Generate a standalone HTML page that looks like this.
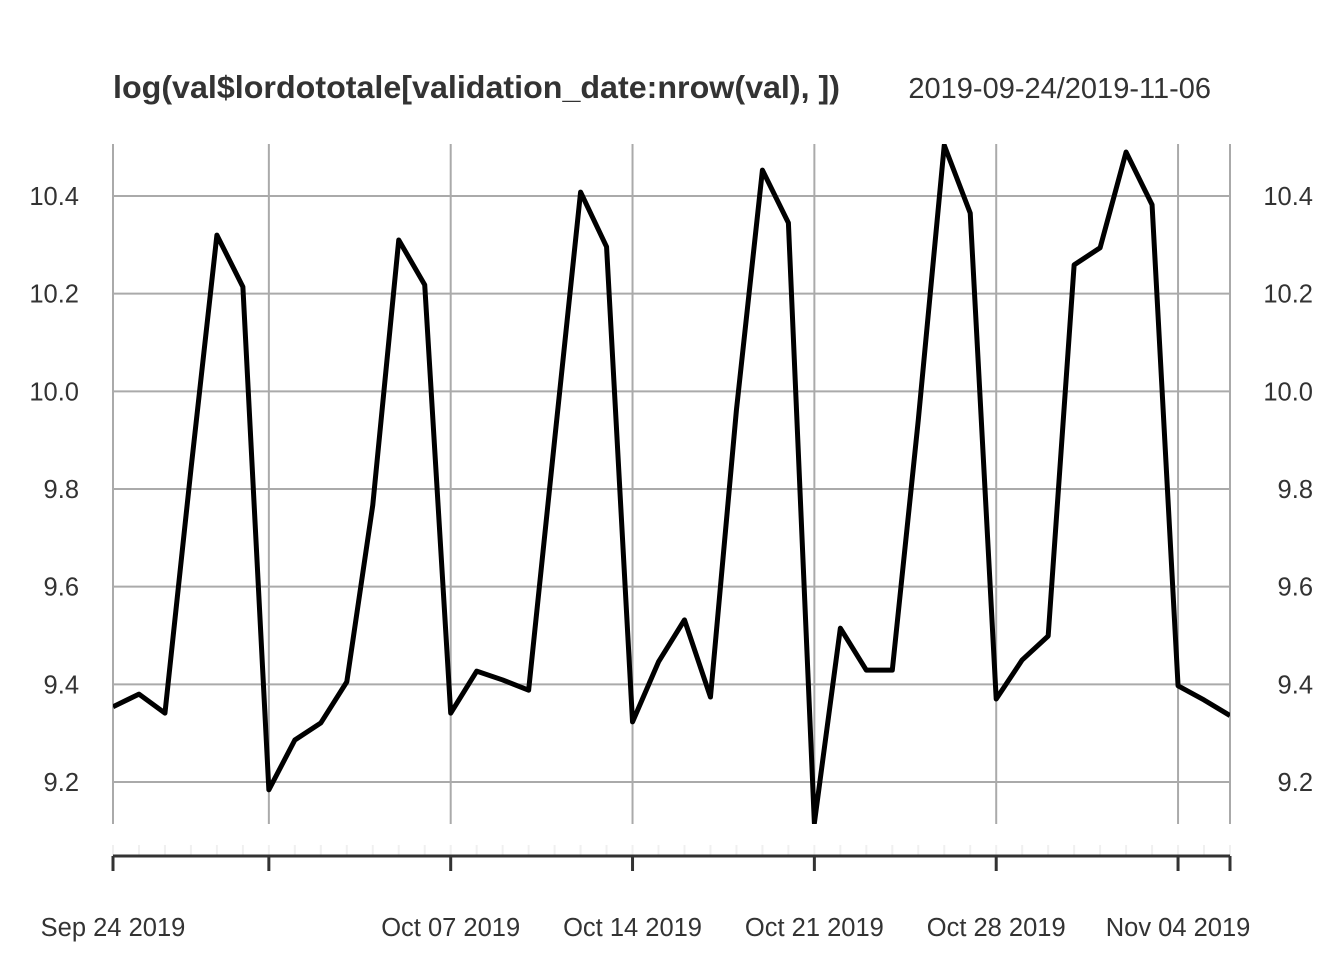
<!DOCTYPE html>
<html><head><meta charset="utf-8"><style>
body{margin:0;background:#fff;}
svg text{font-family:"Liberation Sans",Arial,sans-serif;fill:#333;}
</style></head><body>
<svg id="chart" width="1344" height="960" xmlns="http://www.w3.org/2000/svg">
<text x="113" y="98" font-size="31.5" font-weight="bold" textLength="727" lengthAdjust="spacingAndGlyphs">log(val$lordototale[validation_date:nrow(val), ])</text>
<text x="1211" y="98" font-size="29" text-anchor="end">2019-09-24/2019-11-06</text>
<g id="grid"></g><g id="axes"></g><g id="series"></g>
</svg>
<script>
const dayCount = 44;
const values = [9.354,9.380,9.341,9.84,10.32,10.214,9.184,9.286,9.321,9.405,9.767,10.31,10.218,9.341,9.427,9.409,9.388,9.90,10.408,10.296,9.323,9.446,9.532,9.374,9.962,10.453,10.345,9.116,9.515,9.429,9.429,9.941,10.504,10.365,9.370,9.450,9.499,10.259,10.294,10.49,10.382,9.397,9.368,9.336];
const yTicks = [9.2,9.4,9.6,9.8,10.0,10.2,10.4];
const yTickLabels = ["9.2","9.4","9.6","9.8","10.0","10.2","10.4"];
const majorDays = [0,6,13,20,27,34,41,43];
const xLabelDays = [0,13,20,27,34,41];
const xLabels = ["Sep 24 2019","Oct 07 2019","Oct 14 2019","Oct 21 2019","Oct 28 2019","Nov 04 2019"];

const NS="http://www.w3.org/2000/svg";
const plotX0=113,plotX1=1230,plotTop=144,plotBot=824;
const xs=d=>plotX0+(plotX1-plotX0)*d/(dayCount-1);
const ys=v=>196+(10.4-v)*(782-196)/1.2;
function mk(tag,attrs,parent){const e=document.createElementNS(NS,tag);for(const k in attrs)e.setAttribute(k,attrs[k]);parent.appendChild(e);return e;}
const grid=document.getElementById('grid'),axes=document.getElementById('axes'),series=document.getElementById('series');
yTicks.forEach((t,i)=>{
  const l=mk('line',{x1:plotX0,x2:plotX1,y1:ys(t),y2:ys(t),stroke:'#aaa','stroke-width':2},grid);
  
  
  const a=mk('text',{x:79,y:ys(t)+9,'font-size':25.5,'text-anchor':'end'},axes);a.textContent=yTickLabels[i];
  
  
  const b=mk('text',{x:1313,y:ys(t)+9,'font-size':25.5,'text-anchor':'end'},axes);b.textContent=yTickLabels[i];
  
  
});
majorDays.forEach(d=>{
  const l=mk('line',{x1:xs(d),x2:xs(d),y1:plotTop,y2:plotBot,stroke:'#aaa','stroke-width':2},grid);
  
  
  const t=mk('line',{x1:xs(d),x2:xs(d),y1:856,y2:871,stroke:'#333','stroke-width':3},axes);
  
  
});
for(let d=0;d<dayCount;d++){
  const t=mk('line',{x1:xs(d),x2:xs(d),y1:845,y2:856,stroke:'#f0f0f0','stroke-width':2},axes);
  
  
}
const ax=mk('line',{x1:plotX0,x2:plotX1,y1:856,y2:856,stroke:'#333','stroke-width':3},axes);


xLabelDays.forEach((d,i)=>{
  const t=mk('text',{x:xs(d),y:936,'font-size':25.5,'text-anchor':'middle'},axes);t.textContent=xLabels[i];
  
  
});
const cp=mk('clipPath',{id:'clip'},series);mk('rect',{x:plotX0,y:plotTop,width:plotX1-plotX0,height:plotBot-plotTop},cp);
const p=mk('polyline',{points:values.map((v,i)=>xs(i)+','+ys(v)).join(' '),fill:'none',stroke:'#000','stroke-width':5,'stroke-linejoin':'round','clip-path':'url(#clip)'},series);


</script>
</body></html>
